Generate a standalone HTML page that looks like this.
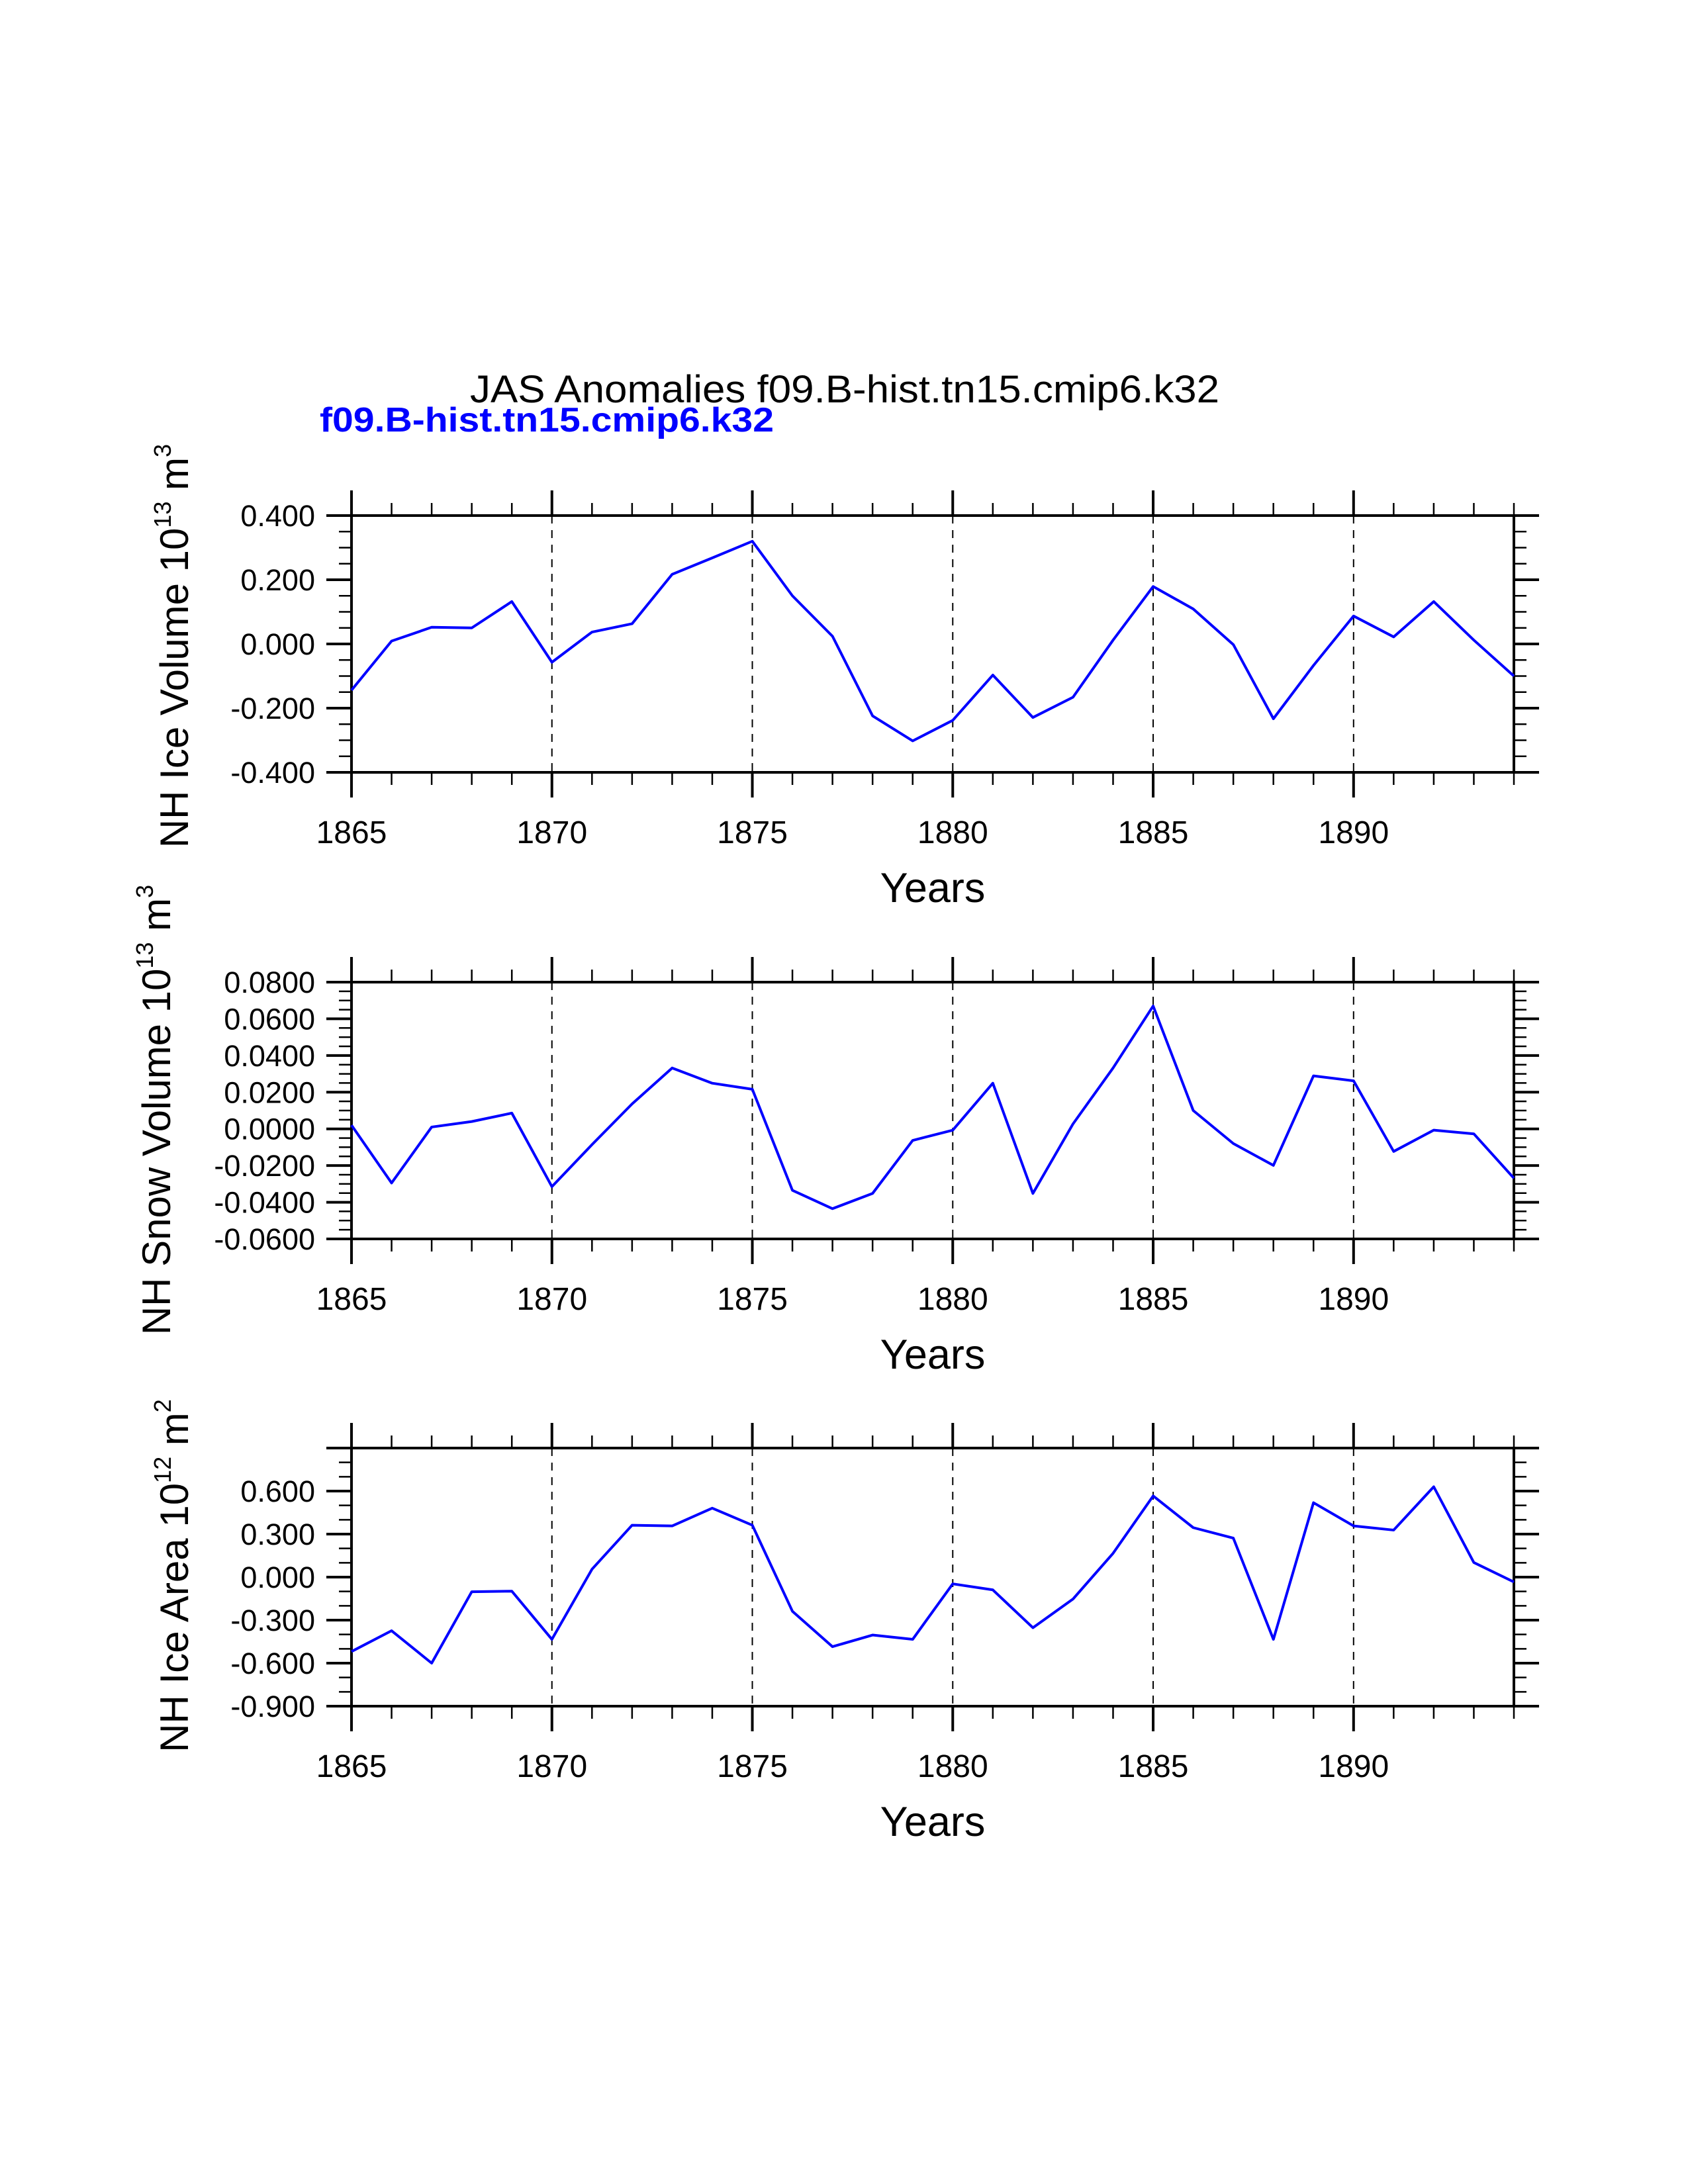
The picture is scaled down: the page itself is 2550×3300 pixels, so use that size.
<!DOCTYPE html>
<html><head><meta charset="utf-8"><style>
html,body{margin:0;padding:0;background:#fff;}
svg{display:block;font-family:"Liberation Sans",Arial,sans-serif;}
</style></head>
<body>
<svg id="chart" width="2550" height="3300" viewBox="0 0 2550 3300" xmlns="http://www.w3.org/2000/svg">
<rect width="2550" height="3300" fill="#fff"/>
<text x="1276" y="608" font-size="58" text-anchor="middle" textLength="1132" lengthAdjust="spacingAndGlyphs">JAS Anomalies f09.B-hist.tn15.cmip6.k32</text>
<text x="483" y="652" font-size="52" font-weight="bold" fill="#0000ff" textLength="686" lengthAdjust="spacingAndGlyphs">f09.B-hist.tn15.cmip6.k32</text>
</svg>
<script>
const years = [1865,1866,1867,1868,1869,1870,1871,1872,1873,1874,1875,1876,1877,1878,1879,1880,1881,1882,1883,1884,1885,1886,1887,1888,1889,1890,1891,1892,1893,1894];
const xTickLabels = ["1865","1870","1875","1880","1885","1890"];
const iceVolume = [-0.144,0.009,0.052,0.05,0.132,-0.057,0.037,0.063,0.217,0.268,0.32,0.15,0.024,-0.224,-0.302,-0.238,-0.097,-0.229,-0.166,0.012,0.179,0.109,-0.002,-0.233,-0.067,0.087,0.022,0.132,0.012,-0.1];
const snowVolume = [0.002,-0.0295,0.001,0.004,0.0086,-0.0315,-0.0086,0.0136,0.0332,0.0249,0.0216,-0.0335,-0.0435,-0.0352,-0.0063,-0.0007,0.0249,-0.0352,0.0027,0.0332,0.067,0.01,-0.008,-0.0199,0.0289,0.0262,-0.0123,-0.0007,-0.0027,-0.0269];
const iceArea = [-0.519,-0.374,-0.6,-0.102,-0.098,-0.434,0.055,0.362,0.357,0.481,0.362,-0.238,-0.485,-0.404,-0.434,-0.047,-0.089,-0.353,-0.153,0.166,0.566,0.345,0.272,-0.434,0.519,0.357,0.328,0.63,0.102,-0.034];
const iceVolTicks = ["-0.400","-0.200","0.000","0.200","0.400"];
const snowTicks = ["-0.0600","-0.0400","-0.0200","0.0000","0.0200","0.0400","0.0600","0.0800"];
const areaTicks = ["-0.900","-0.600","-0.300","0.000","0.300","0.600"];

const NS="http://www.w3.org/2000/svg";
const svg=document.getElementById('chart');
const L=531,R=2287,X0=1865,X1=1894;
function xs(v){return L+(v-X0)/(X1-X0)*(R-L);}
function mk(tag,attrs,parent){const e=document.createElementNS(NS,tag);for(const k in attrs)e.setAttribute(k,attrs[k]);(parent||svg).appendChild(e);return e;}

const panels=[
 {name:'ice-volume',top:779,bot:1167,ymin:-0.4,ymax:0.4,minor:0.05,data:iceVolume,ticks:iceVolTicks,tlx:263,tly:976,base:'NH Ice Volume 10',sup:'13',unit:' m',usup:'3',labY:1257,yrY:1341},
 {name:'snow-volume',top:1484,bot:1872,ymin:-0.06,ymax:0.08,minor:0.005,data:snowVolume,ticks:snowTicks,tlx:236,tly:1677,base:'NH Snow Volume 10',sup:'13',unit:' m',usup:'3',labY:1962,yrY:2046},
 {name:'ice-area',top:2188,bot:2578,ymin:-0.9,ymax:0.9,minor:0.1,data:iceArea,ticks:areaTicks,tlx:263,tly:2381,base:'NH Ice Area 10',sup:'12',unit:' m',usup:'2',labY:2668,yrY:2752}
];

panels.forEach(p=>{
 const g=mk('g',{});
 
 
 const ys=v=>p.bot-(v-p.ymin)/(p.ymax-p.ymin)*(p.bot-p.top);
 for(let yr=1870;yr<=1890;yr+=5){
  const d=mk('line',{x1:xs(yr),x2:xs(yr),y1:p.top,y2:p.bot,stroke:'#000','stroke-width':2,'stroke-dasharray':'12,10'},g);
  
  
 }
 for(let yr=X0;yr<=X1;yr++){
  const major=(yr%5===0);const len=major?38:19;const x=xs(yr);
  const t1=mk('line',{x1:x,x2:x,y1:p.top,y2:p.top-len,stroke:'#000','stroke-width':major?4:2.5},g);
  
  
  const t2=mk('line',{x1:x,x2:x,y1:p.bot,y2:p.bot+len,stroke:'#000','stroke-width':major?4:2.5},g);
  
  
 }
 xTickLabels.forEach(s=>{
  const t=mk('text',{x:xs(+s),y:p.labY+17,'font-size':48,'text-anchor':'middle'},g);t.textContent=s;
  
  
 });
 const n=Math.round((p.ymax-p.ymin)/p.minor);
 const majStep=(+p.ticks[1])-(+p.ticks[0]);
 for(let i=0;i<=n;i++){
  const v=p.ymin+i*p.minor;const rel=(v-(+p.ticks[0]))/majStep;
  const major=Math.abs(rel-Math.round(rel))<1e-6;const len=major?38:19;const y=ys(v);
  const a=mk('line',{x1:L,x2:L-len,y1:y,y2:y,stroke:'#000','stroke-width':major?4:2.5},g);
  
  
  const b=mk('line',{x1:R,x2:R+len,y1:y,y2:y,stroke:'#000','stroke-width':major?4:2.5},g);
  
  
 }
 p.ticks.forEach(s=>{
  const t=mk('text',{x:L-55,y:ys(+s)+16,'font-size':45,'text-anchor':'end'},g);t.textContent=s;
  
  
 });
 const fr=mk('rect',{x:L,y:p.top,width:R-L,height:p.bot-p.top,fill:'none',stroke:'#000','stroke-width':4},g);
 
 
 const pts=years.map((yr,i)=>xs(yr)+','+ys(p.data[i])).join(' ');
 const pl=mk('polyline',{points:pts,fill:'none',stroke:'#0000ff','stroke-width':4,'stroke-linejoin':'round'},g);
 
 
 const xt=mk('text',{x:(L+R)/2,y:p.yrY+22,'font-size':63,'text-anchor':'middle'},g);xt.textContent='Years';
 
 
 const yt=mk('text',{x:0,y:0,'font-size':60,'text-anchor':'middle',transform:`translate(${p.tlx+21},${p.tly}) rotate(-90)`},g);
 
 
 const s1=mk('tspan',{},yt);s1.textContent=p.base;
 const s2=mk('tspan',{dy:-26,'font-size':36},yt);s2.textContent=p.sup;
 const s3=mk('tspan',{dy:26},yt);s3.textContent=p.unit;
 const s4=mk('tspan',{dy:-26,'font-size':36},yt);s4.textContent=p.usup;
});
</script>
</body></html>
